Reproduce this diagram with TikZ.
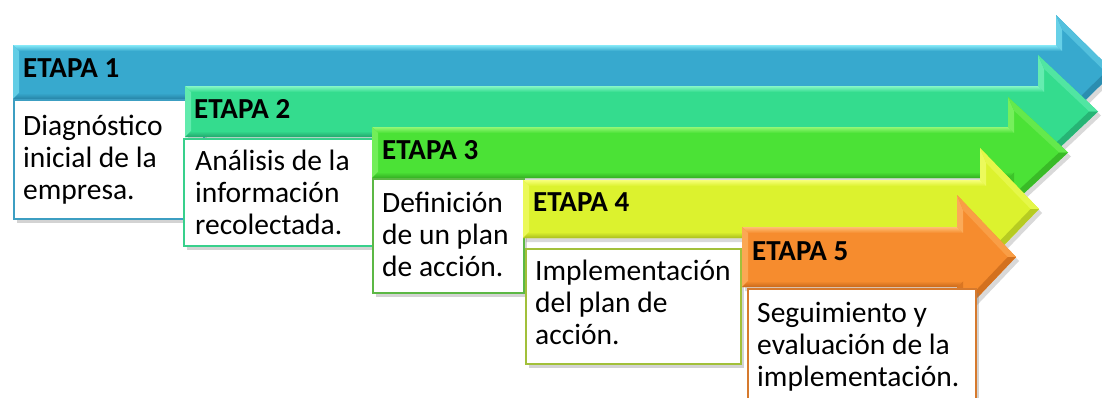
\documentclass[tikz,border=0pt]{standalone}
\usepackage{fontspec}
\setmainfont{Carlito}
\usetikzlibrary{shadows}
\definecolor{bluM}{HTML}{37A9CE}\definecolor{bluL}{HTML}{86EAF8}\definecolor{bluD}{HTML}{2784A6}\definecolor{bluB}{HTML}{3C9EC2}
\definecolor{teaM}{HTML}{34DC8E}\definecolor{teaL}{HTML}{86F7C6}\definecolor{teaD}{HTML}{21A66C}\definecolor{teaB}{HTML}{38D08C}
\definecolor{grnM}{HTML}{4BE236}\definecolor{grnL}{HTML}{93F775}\definecolor{grnD}{HTML}{33AE22}\definecolor{grnB}{HTML}{5CB845}
\definecolor{yelM}{HTML}{DCF22E}\definecolor{yelL}{HTML}{F7FF7A}\definecolor{yelD}{HTML}{A9BE1E}\definecolor{yelB}{HTML}{A2C03A}
\definecolor{ornM}{HTML}{F68C2E}\definecolor{ornL}{HTML}{FFBE74}\definecolor{ornD}{HTML}{C8681A}\definecolor{ornB}{HTML}{D67A2E}
\tikzset{
  ttl/.style={font=\bfseries\fontsize{29}{32}\selectfont, anchor=base west, inner sep=0pt},
  txt/.style={font=\fontsize{29.5}{32}\selectfont, anchor=base west, inner sep=0pt, text width=240pt, align=flush left},
  stagebox/.style={draw=#1, line width=1.6pt, fill=white, anchor=north west, inner sep=0pt,
    drop shadow={shadow xshift=3pt, shadow yshift=-4pt, opacity=0.35}},
  arrshadow/.style={drop shadow={shadow xshift=3pt, shadow yshift=-4pt, opacity=0.3}}
}
% #1 x0, #2 top, #3 bottom, #4 head back x, #5 head top y, #6 tip x, #7 colour prefix
\newcommand\stagearrow[7]{%
  \pgfmathsetmacro\SAcy{(#2+#3)/2}%
  \pgfmathsetmacro\SAhb{2*\SAcy-#5}%
  \pgfmathsetmacro\SAm{(\SAcy-#5)/(#6-#4)}%
  \pgfmathsetmacro\SAs{sqrt(1+\SAm*\SAm)}%
  \pgfmathsetmacro\SAb{6}%
  \pgfmathsetmacro\SAit{#5+\SAb*\SAm+\SAb*\SAs}%
  \pgfmathsetmacro\SAib{\SAhb-\SAb*\SAm-\SAb*\SAs}%
  \pgfmathsetmacro\SAtip{#6-\SAb*\SAs/\SAm}%
  \pgfmathsetmacro\SAx{#4+\SAb}%
  \fill[#7M, arrshadow] (#1,#2) -- (#4,#2) -- (#4,#5) -- (#6,\SAcy) -- (#4,\SAhb) -- (#4,#3) -- (#1,#3) -- cycle;
  \shade[top color=#7L, bottom color=#7M] (#1,#2) -- (#4,#2) -- (\SAx,#2+\SAb) -- (#1+\SAb,#2+\SAb) -- cycle;
  \fill[#7L!55!#7M] (#1,#2) -- (#1+\SAb,#2+\SAb) -- (#1+\SAb,#3-\SAb) -- (#1,#3) -- cycle;
  \fill[#7L!60!#7M] (#4,#2) -- (#4,#5) -- (\SAx,\SAit) -- (\SAx,#2+\SAb) -- cycle;
  \fill[#7L!35!#7M] (#4,#5) -- (#6,\SAcy) -- (\SAtip,\SAcy) -- (\SAx,\SAit) -- cycle;
  \fill[#7D!75!#7M] (#6,\SAcy) -- (#4,\SAhb) -- (\SAx,\SAib) -- (\SAtip,\SAcy) -- cycle;
  \fill[#7D!60!#7M] (#4,\SAhb) -- (#4,#3) -- (\SAx,#3-\SAb) -- (\SAx,\SAib) -- cycle;
  \shade[top color=#7M, bottom color=#7D] (#1,#3) -- (#4,#3) -- (\SAx,#3-\SAb) -- (#1+\SAb,#3-\SAb) -- cycle;
}
\begin{document}
\begin{tikzpicture}[x=1pt, y=-1pt]
\useasboundingbox (0,0) rectangle (1102,397);
\clip (0,0) rectangle (1102,397);
% Stage 1
\stagearrow{13}{45}{99}{1056}{15}{1114}{blu}
\node[stagebox=bluB, minimum width=190pt, minimum height=119pt] (b1) at (13,99) {};
\node[ttl] (e1) at (23,77.5) {ETAPA 1};
\node[txt] (t1) at (23,135) {Diagnóstico\\inicial de la\\empresa.};
% Stage 2
\stagearrow{185}{86}{137}{1038}{55}{1098}{tea}
\node[stagebox=teaB, minimum width=189pt, minimum height=107pt] (b2) at (183,138) {};
\node[ttl] (e2) at (194,118) {ETAPA 2};
\node[txt] (t2) at (195,170) {Análisis de la\\información\\recolectada.};
% Stage 3
\stagearrow{372}{127}{178}{1008}{97}{1068}{grn}
\node[stagebox=grnB, minimum width=151pt, minimum height=114pt] (b3) at (372,178) {};
\node[ttl] (e3) at (382,159) {ETAPA 3};
\node[txt] (t3) at (382,212) {Definición\\de un plan\\de acción.};
% Stage 4
\stagearrow{523}{180}{238}{980}{148}{1039}{yel}
\node[stagebox=yelB, minimum width=215pt, minimum height=115pt] (b4) at (525,248) {};
\node[ttl] (e4) at (533,211) {ETAPA 4};
\node[txt] (t4) at (535,280) {Implementación\\del plan de\\acción.};
% Stage 5
\stagearrow{742}{227}{287}{957}{195}{1016}{orn}
\node[stagebox=ornB, minimum width=228pt, minimum height=120pt] (b5) at (747,288) {};
\node[ttl] (e5) at (752,260) {ETAPA 5};
\node[txt] (t5) at (757,322) {Seguimiento y\\evaluación de la\\implementación.};
\end{tikzpicture}
\end{document}
